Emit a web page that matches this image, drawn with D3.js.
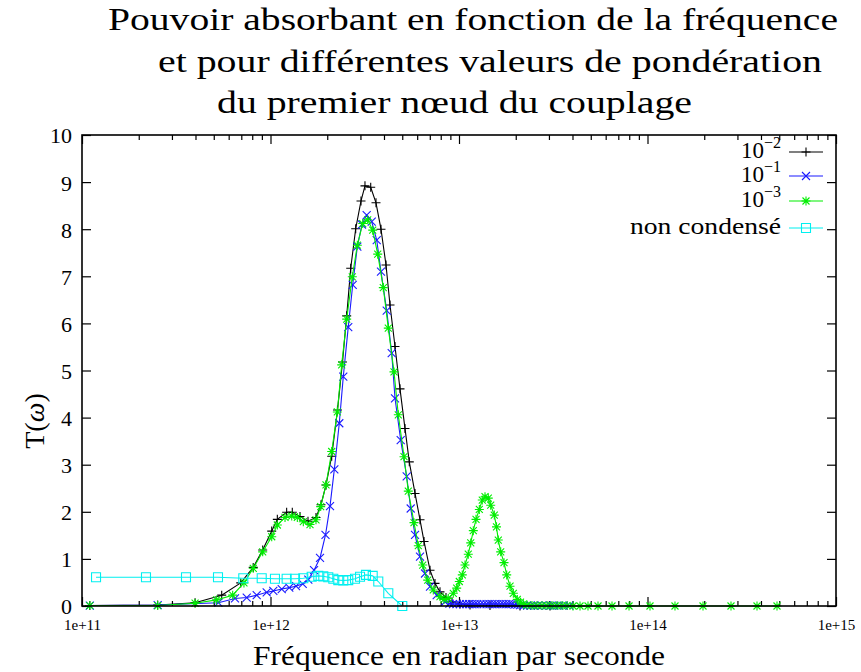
<!DOCTYPE html>
<html><head><meta charset="utf-8">
<script src="https://cdn.jsdelivr.net/npm/d3@7"></script>
<style>
body{margin:0;background:#fff}
svg{display:block}
text{font-family:"Liberation Serif","Times New Roman","DejaVu Serif",serif;font-stretch:condensed;fill:#000}
</style>
</head><body>
<svg id="c" width="861" height="672"></svg>
<script>
// ---------- data (frequency in rad/s, T(omega)) ----------
const blackFreq=[1.10e11,2.52e11,3.98e11,5.51e11,6.95e11,8.10e11,9.09e11,1.015e12,1.087e12,1.218e12,
 1.305e12,1.434e12,1.581e12,1.743e12,1.853e12,1.970e12,2.112e12,2.267e12,2.410e12,2.536e12,
 2.664e12,2.831e12,3.021e12,3.171e12,3.401e12,3.628e12,3.856e12,4.100e12,4.305e12,4.576e12,
 4.864e12,5.169e12,5.449e12,5.844e12,6.211e12,6.523e12,7.018e12,7.459e12,7.928e12,8.531e12,
 9.18e12,1.012e13,1.144e13,1.460e13,2.107e13,3.04e13];
const blackT=[0.01,0.02,0.07,0.23,0.49,0.82,1.19,1.59,1.84,1.99,
 1.99,1.90,1.80,1.88,2.15,2.57,3.18,4.16,5.18,6.16,
 7.17,8.01,8.60,8.92,8.89,8.56,8.00,7.24,6.39,5.51,
 4.61,3.77,3.06,2.39,1.83,1.37,0.76,0.48,0.30,0.18,
 0.09,0.04,0.02,0.01,0.0,0.0];

const blueFreq=[1.10e11,2.52e11,5.29e11,6.48e11,7.48e11,8.45e11,9.545e11,1.035e12,1.147e12,1.258e12,
 1.366e12,1.482e12,1.587e12,1.702e12,1.831e12,1.958e12,2.069e12,2.181e12,2.317e12,2.433e12,
 2.585e12,2.730e12,2.888e12,3.058e12,3.238e12,3.443e12,3.660e12,3.856e12,4.135e12,4.395e12,
 4.576e12,4.906e12,5.278e12,5.543e12,5.844e12,6.211e12,6.601e12,7.018e12,7.615e12,8.427e12,
 8.9e12,9.3e12,9.7e12,1.01e13,1.05e13,1.09e13,1.13e13,1.17e13,1.21e13,1.25e13,
 1.30e13,1.35e13,1.40e13,1.45e13,1.50e13,1.55e13,1.60e13,1.66e13,1.72e13,1.78e13,
 1.84e13,1.90e13,1.97e13,2.04e13,2.11e13,2.20e13,2.30e13,2.40e13,2.50e13,2.62e13,
 2.75e13,2.90e13,3.05e13,3.20e13,3.40e13,3.60e13,3.85e13];
const blueT=[0.01,0.02,0.07,0.16,0.18,0.23,0.29,0.32,0.36,0.39,
 0.42,0.47,0.56,0.76,1.02,1.51,2.12,2.90,3.88,4.87,
 5.92,6.82,7.63,8.10,8.30,8.16,7.77,7.10,6.27,5.37,
 4.41,3.52,2.75,2.07,1.51,1.05,0.69,0.41,0.23,0.09,
 0.05,0.04,0.04,0.04,0.04,0.04,0.04,0.04,0.04,0.04,
 0.04,0.04,0.04,0.04,0.04,0.04,0.04,0.04,0.04,0.04,
 0.04,0.04,0.03,0.03,0.02,0.01,0.01,0.01,0.01,0.01,
 0.01,0.01,0.01,0.01,0.01,0.01,0.01];

const greenFreq=[1.10e11,2.52e11,3.98e11,5.18e11,6.30e11,7.23e11,8.10e11,9.09e11,1.015e12,1.087e12,
 1.194e12,1.296e12,1.388e12,1.493e12,1.620e12,1.743e12,1.846e12,1.970e12,2.112e12,2.262e12,
 2.386e12,2.536e12,2.716e12,2.888e12,3.084e12,3.278e12,3.485e12,3.705e12,3.967e12,4.216e12,
 4.521e12,4.764e12,5.108e12,5.383e12,5.772e12,6.083e12,6.418e12,6.823e12,7.305e12,7.928e12,
 8.325e12,8.773e12,9.328e12,9.723e12,1.004e13,1.041e13,1.076e13,1.120e13,1.154e13,1.191e13,
 1.231e13,1.282e13,1.329e13,1.374e13,1.430e13,1.473e13,1.539e13,1.581e13,1.616e13,1.664e13,
 1.733e13,1.791e13,1.865e13,1.942e13,2.039e13,2.120e13,2.193e13,2.295e13,2.439e13,2.593e13,
 2.756e13,2.930e13,3.114e13,3.311e13,3.519e13,3.741e13,4.025e13,4.385e13,4.835e13,5.463e13,
 6.482e13,7.98e13,1.031e14,1.399e14,1.970e14,2.773e14,3.810e14,4.864e14];
const greenT=[0.01,0.01,0.06,0.13,0.23,0.49,0.80,1.15,1.47,1.72,
 1.88,1.91,1.88,1.79,1.73,1.83,2.11,2.57,3.28,4.12,
 5.12,6.09,6.99,7.66,8.12,8.20,7.98,7.47,6.76,5.90,
 4.97,4.06,3.17,2.44,1.77,1.28,0.87,0.55,0.34,0.20,
 0.14,0.16,0.27,0.38,0.52,0.66,0.87,1.10,1.34,1.60,
 1.84,2.05,2.25,2.32,2.29,2.14,1.93,1.68,1.40,1.15,
 0.92,0.66,0.42,0.27,0.14,0.08,0.04,0.02,0.01,0.01,
 0.01,0.01,0.01,0.01,0.01,0.01,0.0,0.0,0.0,0.0,
 0.0,0.0,0.0,0.0,0.0,0.0,0.0,0.0];

const cyanFreq=[1.187e11,2.185e11,3.562e11,5.266e11,7.172e11,8.982e11,1.056e12,1.218e12,1.349e12,1.493e12,
 1.654e12,1.793e12,1.906e12,2.026e12,2.154e12,2.289e12,2.433e12,2.585e12,2.808e12,2.985e12,
 3.210e12,3.485e12,3.731e12,4.216e12,5.003e12];
const cyanT=[0.61,0.61,0.61,0.61,0.59,0.59,0.58,0.58,0.58,0.59,
 0.62,0.64,0.63,0.61,0.58,0.55,0.54,0.55,0.58,0.62,
 0.66,0.64,0.52,0.27,0.0];

const xTickValues=[1e11,1e12,1e13,1e14,1e15];
const xTickLabels=["1e+11","1e+12","1e+13","1e+14","1e+15"];
const yTickValues=[0,1,2,3,4,5,6,7,8,9,10];
const titleLines=["Pouvoir absorbant en fonction de la fréquence",
 "et pour différentes valeurs de pondération",
 "du premier nœud du couplage"];
const xAxisTitle="Fréquence en radian par seconde";
const legendBases=["10","10","10",""];
const legendExps=["−2","−1","−3",""];
const legendTexts=["","","","non condensé"];

// ---------- drawing ----------
const FONT="'Liberation Serif','Times New Roman','DejaVu Serif',serif";
const svg=d3.select("#c");
svg.append("rect").attr("width",861).attr("height",672).attr("fill","#fff");
const x=d3.scaleLog().domain([1e11,1e15]).range([82,836]);
const y=d3.scaleLinear().domain([0,10]).range([606,135]);

const series=[
 {f:blackFreq,t:blackT,color:"#000000",marker:"plus"},
 {f:blueFreq,t:blueT,color:"#1a1aff",marker:"cross"},
 {f:greenFreq,t:greenT,color:"#00ee00",marker:"star"},
 {f:cyanFreq,t:cyanT,color:"#00f0f0",marker:"square"}
];
const markerPath={
 plus:"M-4.5,0H4.5M0,-4.5V4.5",
 cross:"M-4,-4L4,4M-4,4L4,-4",
 star:"M-4.5,0H4.5M0,-4.5V4.5M-3.5,-3.5L3.5,3.5M-3.5,3.5L3.5,-3.5",
 square:"M-4.5,-4.5H4.5V4.5H-4.5Z"
};

// axes ticks
const minor=x.ticks().filter(v=>!xTickValues.includes(v));
const gB=svg.append("g").attr("transform","translate(0,606)");
gB.call(d3.axisBottom(x).tickValues(minor).tickSizeInner(-5).tickSizeOuter(0).tickFormat(""));
const gB2=svg.append("g").attr("transform","translate(0,606)");
gB2.call(d3.axisBottom(x).tickValues(xTickValues).tickSizeInner(-9).tickSizeOuter(0).tickPadding(13)
  .tickFormat((d,i)=>xTickLabels[i]));
const gT=svg.append("g").attr("transform","translate(0,135)");
gT.call(d3.axisTop(x).tickValues(minor).tickSizeInner(-5).tickSizeOuter(0).tickFormat(""));
const gT2=svg.append("g").attr("transform","translate(0,135)");
gT2.call(d3.axisTop(x).tickValues(xTickValues).tickSizeInner(-9).tickSizeOuter(0).tickFormat(""));
const gL=svg.append("g").attr("transform","translate(82,0)");
gL.call(d3.axisLeft(y).tickValues(yTickValues).tickSizeInner(-9).tickSizeOuter(0).tickPadding(10).tickFormat(d3.format("d")));
const gR=svg.append("g").attr("transform","translate(836,0)");
gR.call(d3.axisRight(y).tickValues(yTickValues).tickSizeInner(-9).tickSizeOuter(0).tickFormat(""));
svg.selectAll(".domain").remove();
svg.selectAll(".tick line").attr("stroke","#000").attr("stroke-width",1.2);
gB2.selectAll("text").attr("font-family",FONT).style("font-size","15px").attr("fill","#000");
gL.selectAll("text").attr("font-family",FONT).style("font-size","22px").attr("fill","#000").attr("dy","0.36em");

// series
const line=d3.line().x(d=>x(d.f)).y(d=>y(d.t));
series.forEach(s=>{
  const pts=s.f.map((f,i)=>({f:f,t:s.t[i]}));
  const g=svg.append("g");
  g.append("path").datum(pts).attr("d",line).attr("fill","none").attr("stroke",s.color).attr("stroke-width",1.1);
  g.selectAll("path.m").data(pts).enter().append("path").attr("class","m")
   .attr("d",markerPath[s.marker]).attr("transform",d=>`translate(${x(d.f)},${y(d.t)})`)
   .attr("fill","none").attr("stroke",s.color).attr("stroke-width",1.1);
});

// frame
svg.append("rect").attr("x",82).attr("y",135).attr("width",754).attr("height",471)
  .attr("fill","none").attr("stroke","#000").attr("stroke-width",1.6);

// legend
const legY=[152,176,201,228];
series.forEach((s,i)=>{
  const t=svg.append("text").attr("x",781).attr("y",legY[i]+6).attr("text-anchor","end").style("font-size","23px");
  if(legendBases[i]){
    t.append("tspan").text(legendBases[i]);
    t.append("tspan").attr("dy",-10).style("font-size","16px").text(legendExps[i]);
  } else {
    t.attr("textLength",151).attr("lengthAdjust","spacingAndGlyphs").text(legendTexts[i]).style("font-size","24px");
  }
  svg.append("line").attr("x1",789).attr("x2",823).attr("y1",legY[i]).attr("y2",legY[i])
    .attr("stroke",s.color).attr("stroke-width",1.1);
  svg.append("path").attr("d",markerPath[s.marker]).attr("transform",`translate(806,${legY[i]})`)
    .attr("fill","none").attr("stroke",s.color).attr("stroke-width",1.1);
});

// titles
const titlePos=[[108,30,730],[158,72,664],[217,113,475]];
titleLines.forEach((l,i)=>{
  svg.append("text").attr("x",titlePos[i][0]).attr("y",titlePos[i][1])
    .attr("textLength",titlePos[i][2]).attr("lengthAdjust","spacingAndGlyphs")
    .style("font-size","31px").text(l);
});
svg.append("text").attr("x",253).attr("y",665).attr("textLength",412).attr("lengthAdjust","spacingAndGlyphs")
  .style("font-size","28px").text(xAxisTitle);
const yl=svg.append("text").attr("transform","translate(44,421) rotate(-90)").attr("text-anchor","middle").style("font-size","28px");
yl.append("tspan").text("T(");
yl.append("tspan").style("font-style","italic").text("ω");
yl.append("tspan").text(")");
</script>
</body></html>
